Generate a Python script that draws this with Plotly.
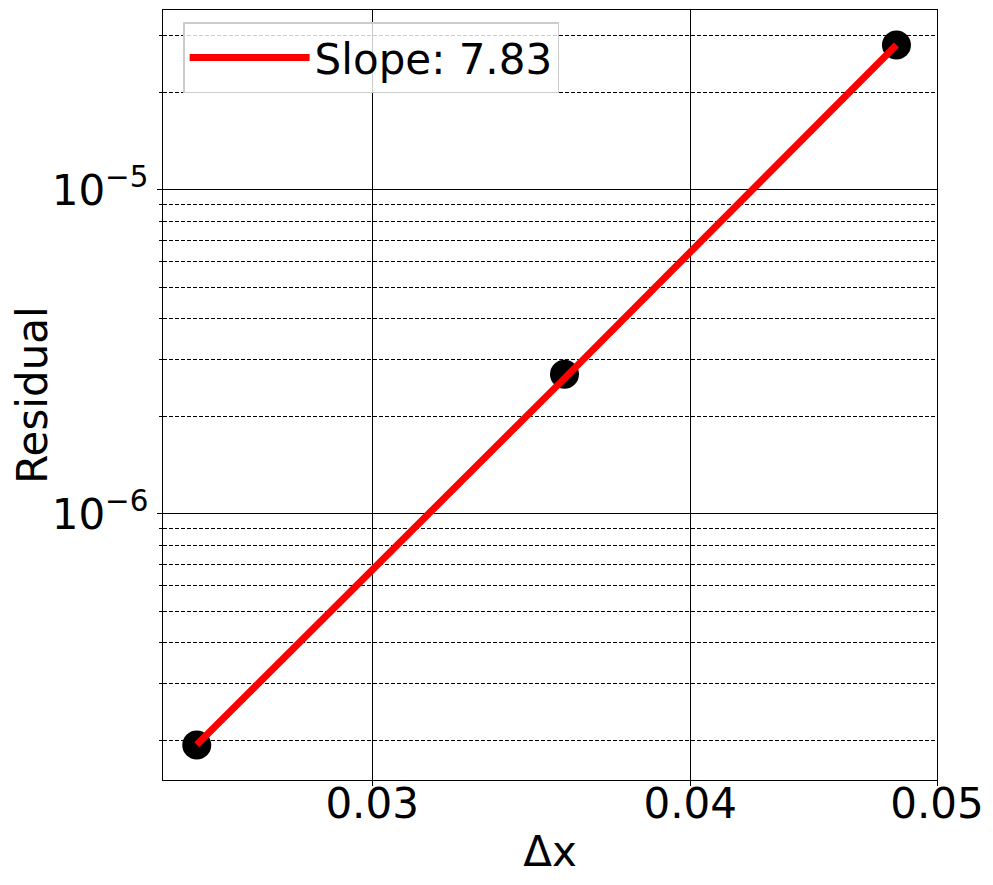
import plotly.graph_objects as go
import numpy as np

# Data
dx = [0.0256, 0.0357, 0.0482]
residual = [1.935e-7, 2.70e-6, 2.80e-5]
fit_residual = [1.94e-7, 2.62e-6, 2.80e-5]
slope_label = "Slope: 7.83"

x_tickvals = [0.03, 0.04, 0.05]
x_ticktext = ["0.03", "0.04", "0.05"]
y_tickvals = [1e-6, 1e-5]
y_ticktext = ["10<sup>\u22126</sup>", "10<sup>\u22125</sup>"]
y_minor = [m * 10.0 ** e for e in (-7, -6, -5) for m in range(2, 10)]

FONT = "DejaVu Sans"
FS = 42

fig = go.Figure()
fig.add_trace(go.Scatter(
    x=dx, y=residual, mode="markers",
    marker=dict(color="black", size=29),
    showlegend=False, cliponaxis=False,
))
fig.add_trace(go.Scatter(
    x=dx, y=fit_residual, mode="lines",
    line=dict(color="red", width=7),
    name=slope_label, cliponaxis=False,
))

# page body has an 8px margin, so the figure is sized to the remaining area
fig.update_layout(
    width=985, height=877,
    margin=dict(l=155, r=56, t=2, b=105),
    paper_bgcolor="white", plot_bgcolor="white",
    font=dict(family=FONT, size=FS, color="black"),
    legend=dict(
        x=0.026, y=0.984, xanchor="left", yanchor="top",
        bgcolor="rgba(255,255,255,0.8)",
        bordercolor="#cccccc", borderwidth=1.5,
        font=dict(size=FS, family=FONT),
        itemwidth=120,
        tracegroupgap=0,
    ),
)
fig.update_xaxes(
    type="log",
    range=[np.log10(0.02483), np.log10(0.05)],
    tickvals=x_tickvals, ticktext=x_ticktext,
    ticks="outside", ticklen=5, tickcolor="black",
    showgrid=True, gridcolor="black", gridwidth=1,
    showline=True, linecolor="black", linewidth=1.3, mirror=True,
    zeroline=False,
    ticklabelstandoff=-19,
    title=dict(text="\u0394x", font=dict(size=FS), standoff=10),
    tickfont=dict(size=FS),
)
fig.update_yaxes(
    type="log",
    range=[np.log10(1.51e-7), np.log10(3.59e-5)],
    tickvals=y_tickvals, ticktext=y_ticktext,
    ticks="outside", ticklen=5, tickcolor="black",
    showgrid=True, gridcolor="black", gridwidth=1,
    showline=True, linecolor="black", linewidth=1.3, mirror=True,
    zeroline=False,
    minor=dict(tickvals=y_minor, ticks="outside", ticklen=3, tickcolor="black",
               showgrid=True, gridcolor="black", gridwidth=0.8, griddash="4px,2px"),
    title=dict(text="Residual", font=dict(size=FS), standoff=1),
    tickfont=dict(size=FS),
)

fig.write_html("out.html")
